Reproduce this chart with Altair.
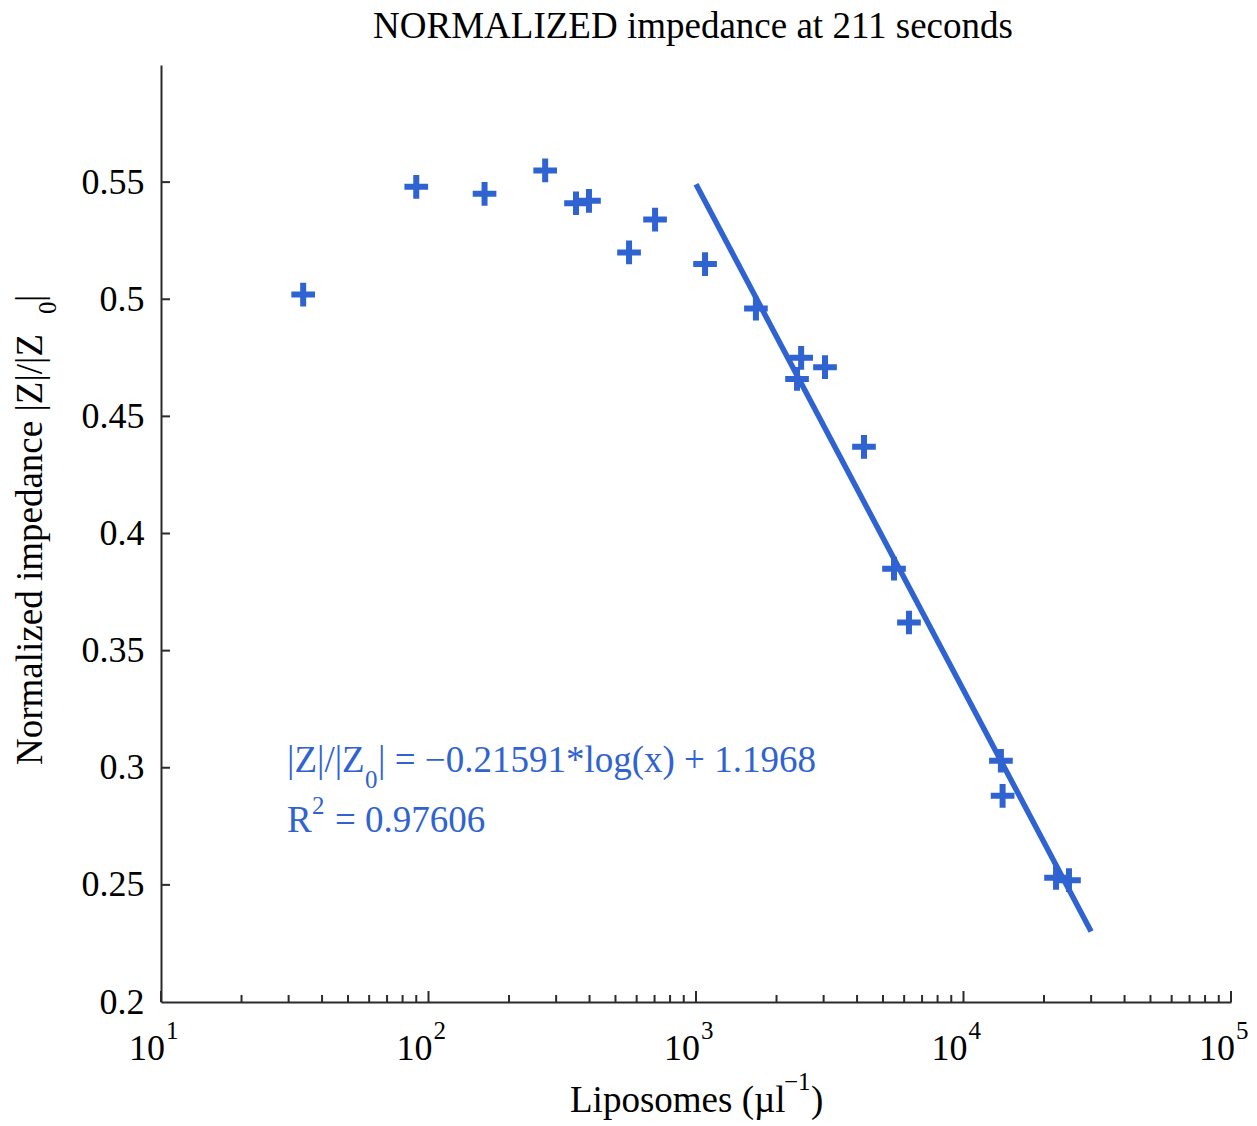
import altair as alt
import pandas as pd

# ---------------- data ----------------
liposomes = [34, 90, 162, 273, 356, 398, 562, 703, 1081, 1675, 2386, 2472,
             3036, 4246, 5498, 6254, 13800, 14000, 22180, 24790]
impedance = [0.502, 0.548, 0.545, 0.555, 0.541, 0.542, 0.520, 0.534, 0.515,
             0.496, 0.466, 0.475, 0.471, 0.437, 0.385, 0.362, 0.303, 0.288,
             0.253, 0.252]
fit_x = [1000, 30000]
fit_y = [0.5491, 0.2301]

x_major = [10, 100, 1000, 10000, 100000]
x_major_base = ["10", "10", "10", "10", "10"]
x_major_exp = ["1", "2", "3", "4", "5"]
x_minor = [20, 30, 40, 50, 60, 70, 80, 90,
           200, 300, 400, 500, 600, 700, 800, 900,
           2000, 3000, 4000, 5000, 6000, 7000, 8000, 9000,
           20000, 30000, 40000, 50000, 60000, 70000, 80000, 90000]
y_ticks = [0.2, 0.25, 0.3, 0.35, 0.4, 0.45, 0.5, 0.55]

# ---------------- style ----------------
BLUE = "#2f63d1"
AXIS = "#2b2b2b"
SERIF = "Liberation Serif"
W, H = 1070, 937
PL, PT = 161, 65

x_scale = alt.Scale(type="log", domain=[10, 100000], nice=False)
y_scale = alt.Scale(domain=[0.2, 0.6], nice=False, zero=False)
x_axis = alt.Axis(title=None, labels=False, ticks=False, grid=False,
                  domain=True, domainColor=AXIS, domainWidth=2)
y_axis = alt.Axis(title=None, values=y_ticks, format="~g", ticks=False, grid=False,
                  domain=True, domainColor=AXIS, domainWidth=2,
                  labelFont=SERIF, labelFontSize=36, labelColor="black",
                  labelPadding=17)

X = lambda f: alt.X(f, scale=x_scale, axis=x_axis)
Y = lambda f: alt.Y(f, scale=y_scale, axis=y_axis)

df = pd.DataFrame({"x": liposomes, "y": impedance})
fit = pd.DataFrame({"x": fit_x, "y": fit_y})
major = pd.DataFrame({"v": x_major, "base": x_major_base, "exp": x_major_exp})
minor = pd.DataFrame({"v": x_minor})
yt = pd.DataFrame({"v": y_ticks[1:]})

points = alt.Chart(df).mark_point(
    shape="M-1,0H1M0,-1V1", filled=False, strokeWidth=6, size=560,
    color=BLUE, opacity=1, strokeCap="butt"
).encode(x=X("x:Q"), y=Y("y:Q"))

line = alt.Chart(fit).mark_line(color=BLUE, strokeWidth=5.5).encode(
    x=X("x:Q"), y=Y("y:Q"))

major_ticks = alt.Chart(major).mark_rule(color=AXIS, strokeWidth=2).encode(
    x=X("v:Q"), y=alt.value(H), y2=alt.value(H - 11))
minor_ticks = alt.Chart(minor).mark_rule(color=AXIS, strokeWidth=2).encode(
    x=X("v:Q"), y=alt.value(H), y2=alt.value(H - 7))
y_tick_marks = alt.Chart(yt).mark_rule(color=AXIS, strokeWidth=2).encode(
    y=Y("v:Q"), x=alt.value(0), x2=alt.value(9))

base_lbl = alt.Chart(major).mark_text(
    align="right", baseline="alphabetic", font=SERIF, fontSize=36, dx=4, color="black"
).encode(x=X("v:Q"), y=alt.value(H + 58), text="base:N")
exp_lbl = alt.Chart(major).mark_text(
    align="left", baseline="alphabetic", font=SERIF, fontSize=25, dx=5, color="black"
).encode(x=X("v:Q"), y=alt.value(H + 37), text="exp:N")


def label(text, px, py, size, color="black", align="left", angle=0):
    return alt.Chart(pd.DataFrame({"t": [text]})).mark_text(
        align=align, baseline="alphabetic", font=SERIF, fontSize=size,
        color=color, angle=angle
    ).encode(x=alt.value(px - PL), y=alt.value(py - PT), text="t:N")


texts = [
    # title
    label("NORMALIZED impedance at 211 seconds", 693, 38, 37, align="center"),
    # x title
    label("Liposomes (µl", 570, 1112, 37),
    label("−1", 784, 1090, 25),
    label(")", 811, 1112, 37),
    # y title (rotated)
    label("Normalized impedance |Z|/|Z", 42, 765, 37, angle=270),
    label("0", 56, 314, 25, angle=270),
    label("|", 42, 302, 37, angle=270),
    # equation
    label("|Z|/|Z", 287, 772, 37, color=BLUE),
    label("0", 365, 788, 25, color=BLUE),
    label("| = −0.21591*log(x) + 1.1968", 378, 772, 37, color=BLUE),
    label("R", 287, 832, 37, color=BLUE),
    label("2", 312, 814, 25, color=BLUE),
    label("= 0.97606", 335, 832, 37, color=BLUE),
]

chart = alt.layer(
    major_ticks, minor_ticks, y_tick_marks, line, points, base_lbl, exp_lbl, *texts
).properties(
    width=W, height=H,
    padding={"left": PL, "top": PT, "right": 1257 - PL - W, "bottom": 1126 - PT - H},
    autosize=alt.AutoSizeParams(type="none"),
    background="white",
).configure_view(stroke=None)

chart.save("out.html", embed_options={"renderer": "svg", "actions": False})
